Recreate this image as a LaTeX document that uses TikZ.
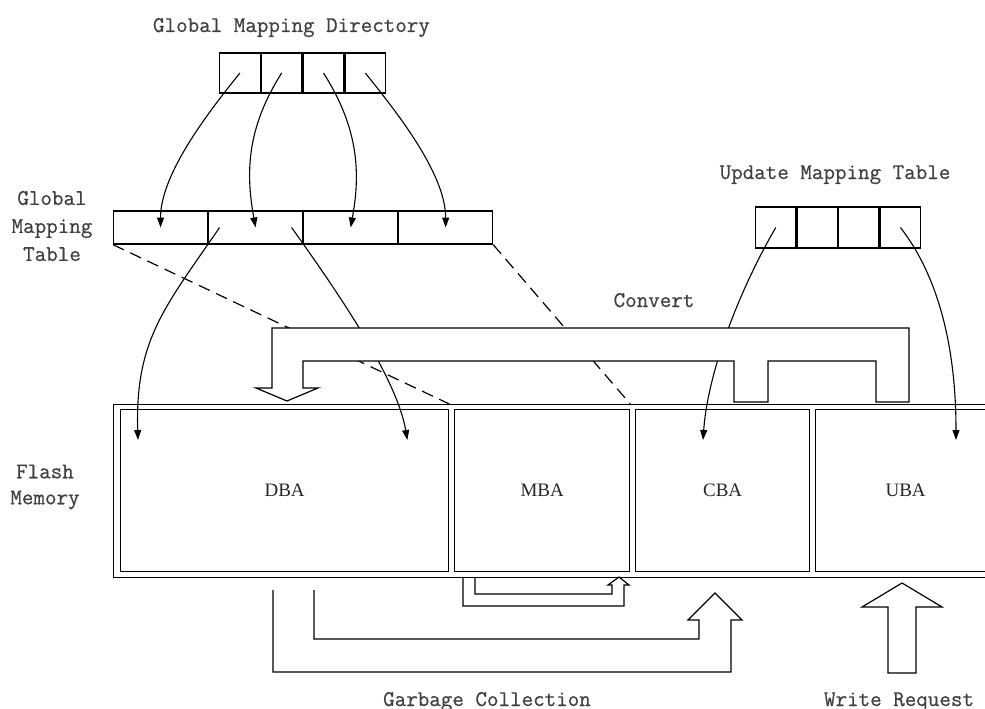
\documentclass[tikz,border=0pt]{standalone}
\usepackage{fontspec}
\setmainfont{Liberation Serif}
\newfontfamily\monofont[FakeBold=0.6]{Latin Modern Mono}
\usetikzlibrary{arrows.meta}
\begin{document}
\begin{tikzpicture}[x=1pt,y=-1pt,
  ln/.style={line width=1.2pt, draw=black},
  gmdcell/.style={draw, line width=1.3pt, inner sep=0pt, minimum width=40.5pt, minimum height=40pt, anchor=west},
  gmtcell/.style={draw, line width=1.3pt, inner sep=0pt, minimum width=93.75pt, minimum height=33pt, anchor=west},
  umtcell/.style={draw, line width=1.3pt, inner sep=0pt, minimum width=40.25pt, minimum height=41pt, anchor=west},
  blk/.style={draw, line width=1.3pt, inner sep=0pt, anchor=north west, minimum height=162pt, text=black!85, font=\fontsize{19}{19}\selectfont},
  lbl/.style={inner sep=0pt, text=black!75, font=\monofont\fontsize{22.4}{28}\selectfont},
  conn/.style={line width=1.1pt, -{Triangle[length=10pt,width=7pt]}},
  dsh/.style={line width=1.2pt, dash pattern=on 12pt off 7pt}
]
\useasboundingbox (0,0) rectangle (985,709);

% Global Mapping Directory cells
\node[gmdcell] (gmd1) at (219,73) {};
\node[gmdcell] (gmd2) at (gmd1.east) {};
\node[gmdcell] (gmd3) at (gmd2.east) {};
\node[gmdcell] (gmd4) at (gmd3.east) {};

% Global Mapping Table cells
\node[gmtcell] (gmt1) at (113,227.5) {};
\node[gmtcell] (gmt2) at (gmt1.east) {};
\node[gmtcell] (gmt3) at (gmt2.east) {};
\node[gmtcell] (gmt4) at (gmt3.east) {};

% Update Mapping Table cells
\node[umtcell] (umt1) at (755,227.5) {};
\node[umtcell] (umt2) at (umt1.east) {};
\node[umtcell] (umt3) at (umt2.east) {};
\node[umtcell] (umt4) at (umt3.east) {};

% Flash memory
\node[draw, line width=1.3pt, inner sep=0pt, anchor=north west, minimum width=882pt, minimum height=173pt] (flash) at (113,404) {};
\node[blk, minimum width=328pt] (dba) at (120,409) {DBA};
\node[blk, minimum width=175pt] (mba) at (454,409) {MBA};
\node[blk, minimum width=174pt] (cba) at (635,409) {CBA};
\node[blk, minimum width=180pt] (uba) at (815,409) {UBA};

\coordinate (pA) at ([shift={(18,31)}]dba.north west);
\coordinate (pB) at ([shift={(-42,31)}]dba.north east);
\coordinate (pC) at ([shift={(68,31)}]cba.north west);
\coordinate (pD) at ([shift={(141,31)}]uba.north west);

% GMD -> GMT
\draw[conn] (gmd1.center) .. controls +(-28,35) and +(0,-55) .. (gmt1.center);
\draw[conn] (gmd2.center) .. controls +(-35,55) and +(-10,-55) .. (gmt2.center);
\draw[conn] (gmd3.center) .. controls +(35,55) and +(10,-55) .. (gmt3.center);
\draw[conn] (gmd4.center) .. controls +(28,35) and +(0,-55) .. (gmt4.center);

% GMT -> flash
\draw[conn] ([xshift=-36pt]gmt2.center) .. controls +(-55,80) and +(-3,-100) .. (pA);
\draw[conn] ([xshift=36pt]gmt2.center) .. controls +(50,70) and +(-10,-60) .. (pB);

% UMT -> flash
\draw[conn] (umt1.center) .. controls +(-35,60) and +(5,-70) .. (pC);
\draw[conn] (umt4.center) .. controls +(35,45) and +(0,-100) .. (pD);

% dashed projections
\draw[dsh] (gmt1.south west) -- (dba.north east |- flash.north);
\draw[dsh] (gmt4.south east) -- (mba.north east |- flash.north);

% Convert band arrow
\draw[ln, fill=white] (272,328) -- (909,328) -- (909,402) -- (876,402) -- (876,361)
  -- (768,361) -- (768,402) -- (734,402) -- (734,361) -- (303,361) -- (303,388)
  -- (318,388) -- (287,401) -- (256,388) -- (272,388) -- cycle;

% Garbage collection arrows
\draw[ln] (273,590) -- (273,672) -- (731,672) -- (731,620) -- (742,620) -- (715,593)
  -- (688,620) -- (699,620) -- (699,639) -- (314,639) -- (314,590);
\draw[ln] (463,577) -- (463,606) -- (624,606) -- (624,585) -- (629,585) -- (619,577)
  -- (608,585) -- (612,585) -- (612,594) -- (475,594) -- (475,577);

% Write request arrow
\draw[ln] (888,673) -- (888,607) -- (862,607) -- (902,583) -- (942,607) -- (916,607)
  -- (916,673) -- cycle;

% Labels
\node[lbl, anchor=base] (tgmd) at (291.5,32) {Global Mapping Directory};
\node[lbl, align=center] (tgmt) at (52,226) {Global\\Mapping\\Table};
\node[lbl, anchor=base] (tumt) at (835,179) {Update Mapping Table};
\node[lbl, anchor=base] (tconv) at (654,307) {Convert};
\node[lbl, align=center, font=\monofont\fontsize{22.4}{26}\selectfont] (tflash) at (45,487) {Flash\\Memory};
\node[lbl, anchor=base] (tgc) at (487,706) {Garbage Collection};
\node[lbl, anchor=base] (twr) at (899,706) {Write Request};
\end{tikzpicture}
\end{document}
